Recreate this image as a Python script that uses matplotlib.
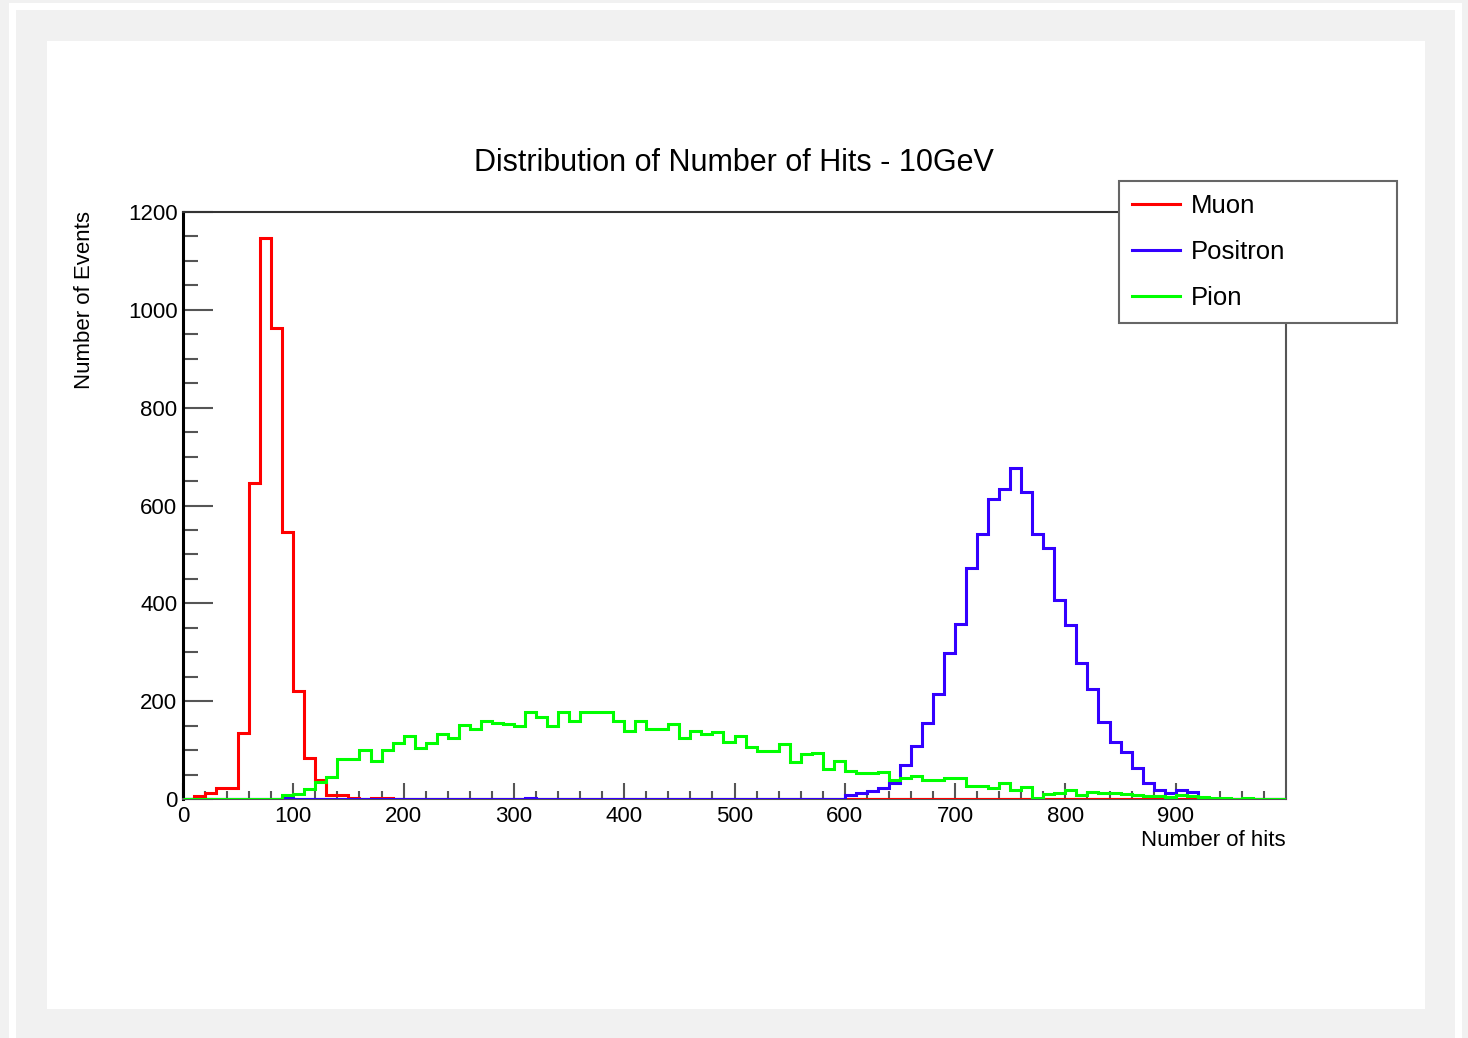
import numpy as np
import matplotlib
matplotlib.use("Agg")
from matplotlib import pyplot as plt
from matplotlib.patches import Rectangle

plt.rcParams["font.family"] = ["Liberation Sans", "DejaVu Sans"]

# histogram bins: 0..1000, width 10
edges = np.arange(0, 1010, 10)

muon = [1, 6, 13, 22, 22, 134, 645, 1146, 962, 545,
        221, 84, 38, 9, 8, 2, 1, 3, 3, 1,
        0, 0, 0, 0, 0, 0, 0, 0, 0, 0,
        0, 0, 1, 0, 0, 0, 0, 0, 0, 0,
        0, 0, 0, 0, 0, 1, 1, 0, 1, 1,
        0, 0, 1, 1, 1, 1, 1, 0, 1, 1,
        1, 1, 1, 1, 1, 1, 1, 1, 1, 1,
        1, 1, 1, 1, 1, 1, 1, 1, 1, 1,
        1, 1, 1, 1, 1, 1, 1, 1, 1, 1,
        1, 1, 1, 0, 0, 0, 0, 0, 0, 0]

positron = [1, 0, 0, 0, 1, 0, 0, 1, 1, 3,
            0, 0, 0, 0, 0, 0, 0, 0, 0, 0,
            0, 0, 0, 0, 0, 0, 0, 0, 0, 0,
            0, 2, 0, 0, 0, 0, 0, 0, 0, 0,
            0, 0, 0, 0, 0, 1, 1, 0, 1, 1,
            1, 0, 1, 1, 1, 1, 1, 1, 0, 1,
            8, 12, 16, 22, 32, 70, 108, 155, 215, 299,
            358, 472, 542, 613, 633, 676, 627, 541, 514, 407,
            356, 279, 224, 158, 117, 97, 64, 33, 18, 12,
            18, 14, 1, 1, 1, 1, 1, 0, 1, 0]

pion = [0, 0, 0, 0, 0, 0, 0, 0, 0, 8,
        10, 20, 35, 44, 82, 82, 100, 78, 100, 115,
        129, 105, 115, 133, 124, 151, 143, 160, 156, 153,
        150, 177, 168, 150, 177, 160, 177, 177, 177, 160,
        139, 160, 143, 143, 153, 124, 139, 133, 136, 117,
        129, 107, 98, 98, 112, 76, 91, 95, 61, 78,
        58, 54, 54, 56, 38, 42, 46, 38, 38, 42,
        42, 27, 26, 22, 32, 18, 24, 3, 11, 12,
        18, 9, 15, 13, 12, 10, 8, 7, 6, 5,
        9, 7, 4, 2, 2, 1, 2, 1, 1, 1]

labels = ["Muon", "Positron", "Pion"]
colors = ["#ff0000", "#3300ff", "#00ff00"]

W, H = 1468, 1038
fig = plt.figure(figsize=(W / 100, H / 100), dpi=100)
fig.patch.set_facecolor("#f1f1f1")

# canvas frame like the ROOT browser window
def px_rect(x0, y0, x1, y1, color):
    fig.patches.append(Rectangle((x0 / W, 1 - y1 / H), (x1 - x0) / W, (y1 - y0) / H,
                                 transform=fig.transFigure, facecolor=color,
                                 edgecolor="none", zorder=-10))

px_rect(9, 3, 1462, 1038, "white")
px_rect(16, 10, 1455, 1038, "#f1f1f1")
px_rect(47, 41, 1425, 1009, "white")

ax = fig.add_axes([183 / W, 1 - 799 / H, 1103 / W, 587 / H])
ax.set_facecolor("white")

for vals, lab, col in zip([muon, positron, pion], labels, colors):
    ax.stairs(vals, edges, color=col, linewidth=2.2, label=lab, zorder=3)

ax.set_xlim(0, 1000)
ax.set_ylim(0, 1200)

ax.set_xticks(np.arange(0, 1000, 100))
ax.set_xticks(np.arange(0, 1000, 20), minor=True)
ax.set_yticks(np.arange(0, 1201, 200))
ax.set_yticks(np.arange(0, 1201, 50), minor=True)

ax.tick_params(axis="both", which="both", direction="in", colors="#555555",
               labelcolor="black", labelsize=16, width=1.5)
ax.tick_params(axis="y", which="major", length=21.5, pad=4)
ax.tick_params(axis="y", which="minor", length=10.8)
ax.tick_params(axis="x", which="major", length=11.5, pad=5)
ax.tick_params(axis="x", which="minor", length=5.5)

ax.spines["left"].set_color("black")
ax.spines["left"].set_linewidth(2.2)
ax.spines["top"].set_color("#333333")
ax.spines["top"].set_linewidth(1.5)
ax.spines["right"].set_color("#555555")
ax.spines["right"].set_linewidth(1.5)
ax.spines["bottom"].set_color("#555555")
ax.spines["bottom"].set_linewidth(1.5)

fig.text(734 / W, 1 - 163 / H, "Distribution of Number of Hits - 10GeV",
         ha="center", va="center", fontsize=22)
fig.text(85 / W, 1 - 211 / H, "Number of Events", rotation=90,
         ha="center", va="top", fontsize=16)
fig.text(1286 / W, 1 - 841 / H, "Number of hits", ha="right", va="center", fontsize=16)

leg = ax.legend(loc="upper left", bbox_to_anchor=(1119 / W, 1 - 322 / H, 278 / W, 141 / H),
                bbox_transform=fig.transFigure, mode="expand", borderaxespad=0,
                fontsize=18.5, handlelength=1.87, handletextpad=0.43,
                labelspacing=0.86, borderpad=0.5, fancybox=False,
                edgecolor="#666666", framealpha=1)
leg.get_frame().set_linewidth(1.5)
for line in leg.get_lines():
    line.set_linewidth(2.2)

plt.savefig("out.png", dpi=100)
plt.close()
